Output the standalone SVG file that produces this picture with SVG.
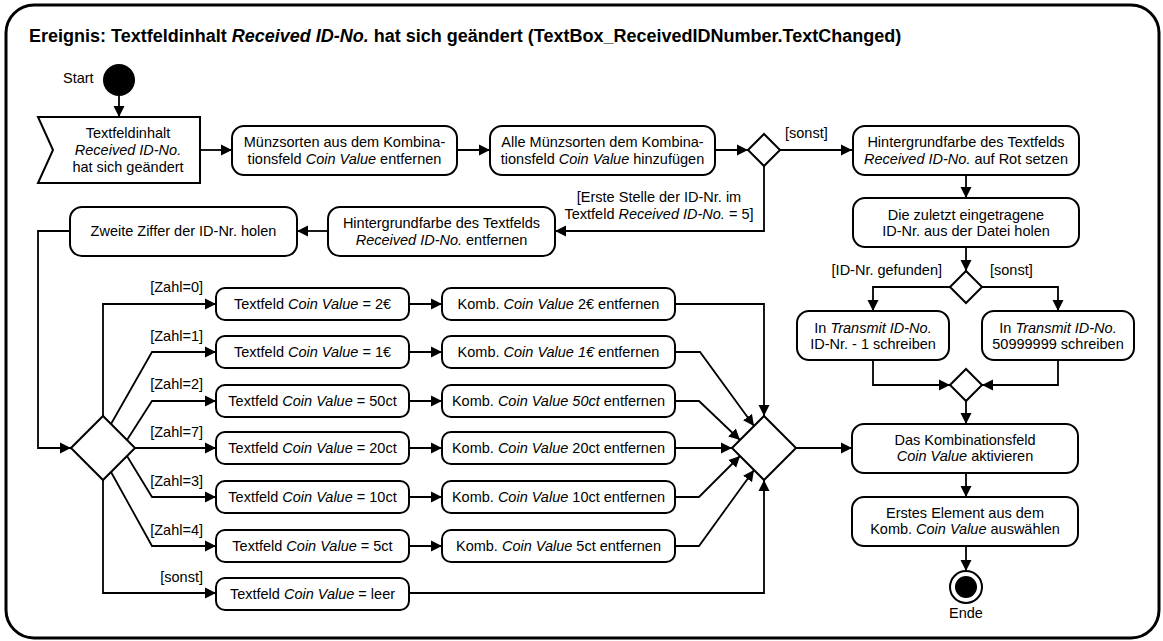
<svg xmlns="http://www.w3.org/2000/svg" width="1163" height="641" viewBox="0 0 1163 641">
  <defs>
    <marker id="arrow" markerUnits="userSpaceOnUse" markerWidth="12" markerHeight="12" refX="11" refY="6" orient="auto">
      <path d="M0,0.5 L11,6 L0,11.5 z" fill="#000"/>
    </marker>
    <style>
      .frame { fill: #fff; stroke: #000; stroke-width: 3; }
      .box { fill: #fff; stroke: #000; stroke-width: 2; }
      .dec { fill: #fff; stroke: #000; stroke-width: 2; }
      .edge { fill: none; stroke: #000; stroke-width: 1.8; marker-end: url(#arrow); }
      text { font-family: "Liberation Sans", Arial, sans-serif; font-size: 14.5px; fill: #000; }
      .c { text-anchor: middle; }
      .r { text-anchor: end; }
      .i { font-style: italic; }
      .title { font-size: 18px; font-weight: bold; }
    </style>
  </defs>

  <rect x="0" y="0" width="1163" height="641" fill="#fff"/>
  <rect class="frame" x="6" y="5" width="1153" height="633" rx="28" ry="28"/>
  <text class="title" x="29" y="42">Ereignis: Textfeldinhalt <tspan class="i">Received ID-No.</tspan> hat sich geändert (TextBox_ReceivedIDNumber.TextChanged)</text>

  <!-- connectors -->
  <g id="connectors">
    <path class="edge" d="M119,96 V117"/>
    <path class="edge" d="M200,150 H232"/>
    <path class="edge" d="M457,150 H490"/>
    <path class="edge" d="M715,150 H748"/>
    <path class="edge" d="M780,150 H852"/>
    <path class="edge" d="M764,166 V231 H555"/>
    <path class="edge" d="M328,231 H297"/>
    <path class="edge" d="M966,175 V198"/>
    <path class="edge" d="M966,247 V271"/>
    <path class="edge" d="M950,287 H873 V311"/>
    <path class="edge" d="M982,287 H1058 V311"/>
    <path class="edge" d="M873,360 V385 H950"/>
    <path class="edge" d="M1058,360 V385 H982"/>
    <path class="edge" d="M966,401 V424"/>
    <path class="edge" d="M966,473 V497"/>
    <path class="edge" d="M966,546 V571"/>
    <path class="edge" d="M70,231 H38 V448 H71"/>
    <path class="edge" d="M103,416 V304 H216"/>
    <path class="edge" d="M111,424 L152,352 H216"/>
    <path class="edge" d="M127,440 L152,401 H216"/>
    <path class="edge" d="M135,448 H216"/>
    <path class="edge" d="M127,456 L152,497 H216"/>
    <path class="edge" d="M111,472 L152,546 H216"/>
    <path class="edge" d="M103,480 V593 H216"/>
    <path class="edge" d="M409,304 H442"/>
    <path class="edge" d="M409,352 H442"/>
    <path class="edge" d="M409,401 H442"/>
    <path class="edge" d="M409,448 H442"/>
    <path class="edge" d="M409,497 H442"/>
    <path class="edge" d="M409,546 H442"/>
    <path class="edge" d="M675,304 H764 V416"/>
    <path class="edge" d="M675,352 H700 L754,426"/>
    <path class="edge" d="M675,401 H699 L740,440"/>
    <path class="edge" d="M675,448 H732"/>
    <path class="edge" d="M675,497 H699 L740,456"/>
    <path class="edge" d="M675,546 H699 L754,470"/>
    <path class="edge" d="M409,593 H764 V480"/>
    <path class="edge" d="M796,448 H852"/>

    <!-- guard labels -->
    <text x="785" y="138">[sonst]</text>
    <text class="c" x="659" y="202">[Erste Stelle der ID-Nr. im</text>
    <text class="c" x="659" y="219">Textfeld <tspan class="i">Received ID-No.</tspan> = 5]</text>
    <text class="r" x="942" y="275">[ID-Nr. gefunden]</text>
    <text x="990" y="275">[sonst]</text>
    <text class="r" x="203" y="292">[Zahl=0]</text>
    <text class="r" x="203" y="341">[Zahl=1]</text>
    <text class="r" x="203" y="389">[Zahl=2]</text>
    <text class="r" x="203" y="437">[Zahl=7]</text>
    <text class="r" x="203" y="486">[Zahl=3]</text>
    <text class="r" x="203" y="535">[Zahl=4]</text>
    <text class="r" x="203" y="582">[sonst]</text>
  </g>

  <!-- start / end -->
  <g id="start">
    <circle cx="119" cy="80" r="16" fill="#000"/>
    <text x="63" y="83">Start</text>
  </g>
  <g id="end">
    <circle cx="966" cy="587" r="16" fill="#fff" stroke="#000" stroke-width="2"/>
    <circle cx="966" cy="587" r="11" fill="#000"/>
    <text class="c" x="966" y="618">Ende</text>
  </g>

  <!-- event -->
  <g id="event">
    <polygon class="box" points="38,117 200,117 200,183 38,183 53,150"/>
    <text class="c" x="128" y="138">Textfeldinhalt</text>
    <text class="c i" x="128" y="155">Received ID-No.</text>
    <text class="c" x="128" y="172">hat sich geändert</text>
  </g>

  <!-- actions, top row -->
  <g id="remove-coins">
    <rect class="box" x="232" y="126" width="225" height="49" rx="12"/>
    <text class="c" x="344.5" y="147">Münzsorten aus dem Kombina-</text>
    <text class="c" x="344.5" y="164">tionsfeld <tspan class="i">Coin Value</tspan> entfernen</text>
  </g>
  <g id="add-coins">
    <rect class="box" x="490" y="126" width="225" height="49" rx="12"/>
    <text class="c" x="602.5" y="147">Alle Münzsorten dem Kombina-</text>
    <text class="c" x="602.5" y="164">tionsfeld <tspan class="i">Coin Value</tspan> hinzufügen</text>
  </g>
  <g id="check-first">
    <polygon class="dec" points="748,150 764,134 780,150 764,166"/>
  </g>
  <g id="set-red">
    <rect class="box" x="853" y="126" width="226" height="49" rx="12"/>
    <text class="c" x="966" y="147">Hintergrundfarbe des Textfelds</text>
    <text class="c" x="966" y="164"><tspan class="i">Received ID-No.</tspan> auf Rot setzen</text>
  </g>

  <!-- right column -->
  <g id="load-last">
    <rect class="box" x="853" y="198" width="226" height="49" rx="12"/>
    <text class="c" x="966" y="220">Die zuletzt eingetragene</text>
    <text class="c" x="966" y="236">ID-Nr. aus der Datei holen</text>
  </g>
  <g id="found">
    <polygon class="dec" points="950,287 966,271 982,287 966,303"/>
  </g>
  <g id="write-minus">
    <rect class="box" x="797" y="311" width="152" height="49" rx="12"/>
    <text class="c" x="873" y="333">In <tspan class="i">Transmit ID-No.</tspan></text>
    <text class="c" x="873" y="349">ID-Nr. - 1 schreiben</text>
  </g>
  <g id="write-default">
    <rect class="box" x="982" y="311" width="152" height="49" rx="12"/>
    <text class="c" x="1058" y="333">In <tspan class="i">Transmit ID-No.</tspan></text>
    <text class="c" x="1058" y="349">50999999 schreiben</text>
  </g>
  <g id="merge-right">
    <polygon class="dec" points="950,385 966,369 982,385 966,401"/>
  </g>
  <g id="activate">
    <rect class="box" x="852" y="424" width="226" height="49" rx="12"/>
    <text class="c" x="965" y="445">Das Kombinationsfeld</text>
    <text class="c" x="965" y="461"><tspan class="i">Coin Value</tspan> aktivieren</text>
  </g>
  <g id="select-first">
    <rect class="box" x="852" y="497" width="226" height="49" rx="12"/>
    <text class="c" x="965" y="518">Erstes Element aus dem</text>
    <text class="c" x="965" y="534">Komb. <tspan class="i">Coin Value</tspan> auswählen</text>
  </g>

  <!-- second row -->
  <g id="clear-bg">
    <rect class="box" x="328" y="207" width="227" height="49" rx="12"/>
    <text class="c" x="441.5" y="228">Hintergrundfarbe des Textfelds</text>
    <text class="c" x="441.5" y="245"><tspan class="i">Received ID-No.</tspan> entfernen</text>
  </g>
  <g id="second-digit">
    <rect class="box" x="70" y="207" width="227" height="49" rx="12"/>
    <text class="c" x="183.5" y="236">Zweite Ziffer der ID-Nr. holen</text>
  </g>
  <g id="digit-switch">
    <polygon class="dec" points="71,448 103,416 135,448 103,480"/>
  </g>

  <!-- coin value text field -->
  <g id="tf-2e">
    <rect class="box" x="216" y="288" width="193" height="32" rx="9"/>
    <text class="c" x="312.5" y="309">Textfeld <tspan class="i">Coin Value</tspan> = 2€</text>
  </g>
  <g id="tf-1e">
    <rect class="box" x="216" y="336" width="193" height="32" rx="9"/>
    <text class="c" x="312.5" y="357">Textfeld <tspan class="i">Coin Value</tspan> = 1€</text>
  </g>
  <g id="tf-50ct">
    <rect class="box" x="216" y="385" width="193" height="32" rx="9"/>
    <text class="c" x="312.5" y="406">Textfeld <tspan class="i">Coin Value</tspan> = 50ct</text>
  </g>
  <g id="tf-20ct">
    <rect class="box" x="216" y="432" width="193" height="32" rx="9"/>
    <text class="c" x="312.5" y="453">Textfeld <tspan class="i">Coin Value</tspan> = 20ct</text>
  </g>
  <g id="tf-10ct">
    <rect class="box" x="216" y="481" width="193" height="32" rx="9"/>
    <text class="c" x="312.5" y="502">Textfeld <tspan class="i">Coin Value</tspan> = 10ct</text>
  </g>
  <g id="tf-5ct">
    <rect class="box" x="216" y="530" width="193" height="32" rx="9"/>
    <text class="c" x="312.5" y="551">Textfeld <tspan class="i">Coin Value</tspan> = 5ct</text>
  </g>
  <g id="tf-empty">
    <rect class="box" x="216" y="578" width="193" height="32" rx="9"/>
    <text class="c" x="312.5" y="599">Textfeld <tspan class="i">Coin Value</tspan> = leer</text>
  </g>

  <!-- combo box removal -->
  <g id="cb-2e">
    <rect class="box" x="442" y="288" width="233" height="32" rx="9"/>
    <text class="c" x="558.5" y="309">Komb. <tspan class="i">Coin Value</tspan> 2€ entfernen</text>
  </g>
  <g id="cb-1e">
    <rect class="box" x="442" y="336" width="233" height="32" rx="9"/>
    <text class="c" x="558.5" y="357">Komb. <tspan class="i">Coin Value 1€</tspan> entfernen</text>
  </g>
  <g id="cb-50ct">
    <rect class="box" x="442" y="385" width="233" height="32" rx="9"/>
    <text class="c" x="558.5" y="406">Komb. <tspan class="i">Coin Value 50ct</tspan> entfernen</text>
  </g>
  <g id="cb-20ct">
    <rect class="box" x="442" y="432" width="233" height="32" rx="9"/>
    <text class="c" x="558.5" y="453">Komb. <tspan class="i">Coin Value</tspan> 20ct entfernen</text>
  </g>
  <g id="cb-10ct">
    <rect class="box" x="442" y="481" width="233" height="32" rx="9"/>
    <text class="c" x="558.5" y="502">Komb. <tspan class="i">Coin Value</tspan> 10ct entfernen</text>
  </g>
  <g id="cb-5ct">
    <rect class="box" x="442" y="530" width="233" height="32" rx="9"/>
    <text class="c" x="558.5" y="551">Komb. <tspan class="i">Coin Value</tspan> 5ct entfernen</text>
  </g>

  <g id="merge-coins">
    <polygon class="dec" points="732,448 764,416 796,448 764,480"/>
  </g>
</svg>
